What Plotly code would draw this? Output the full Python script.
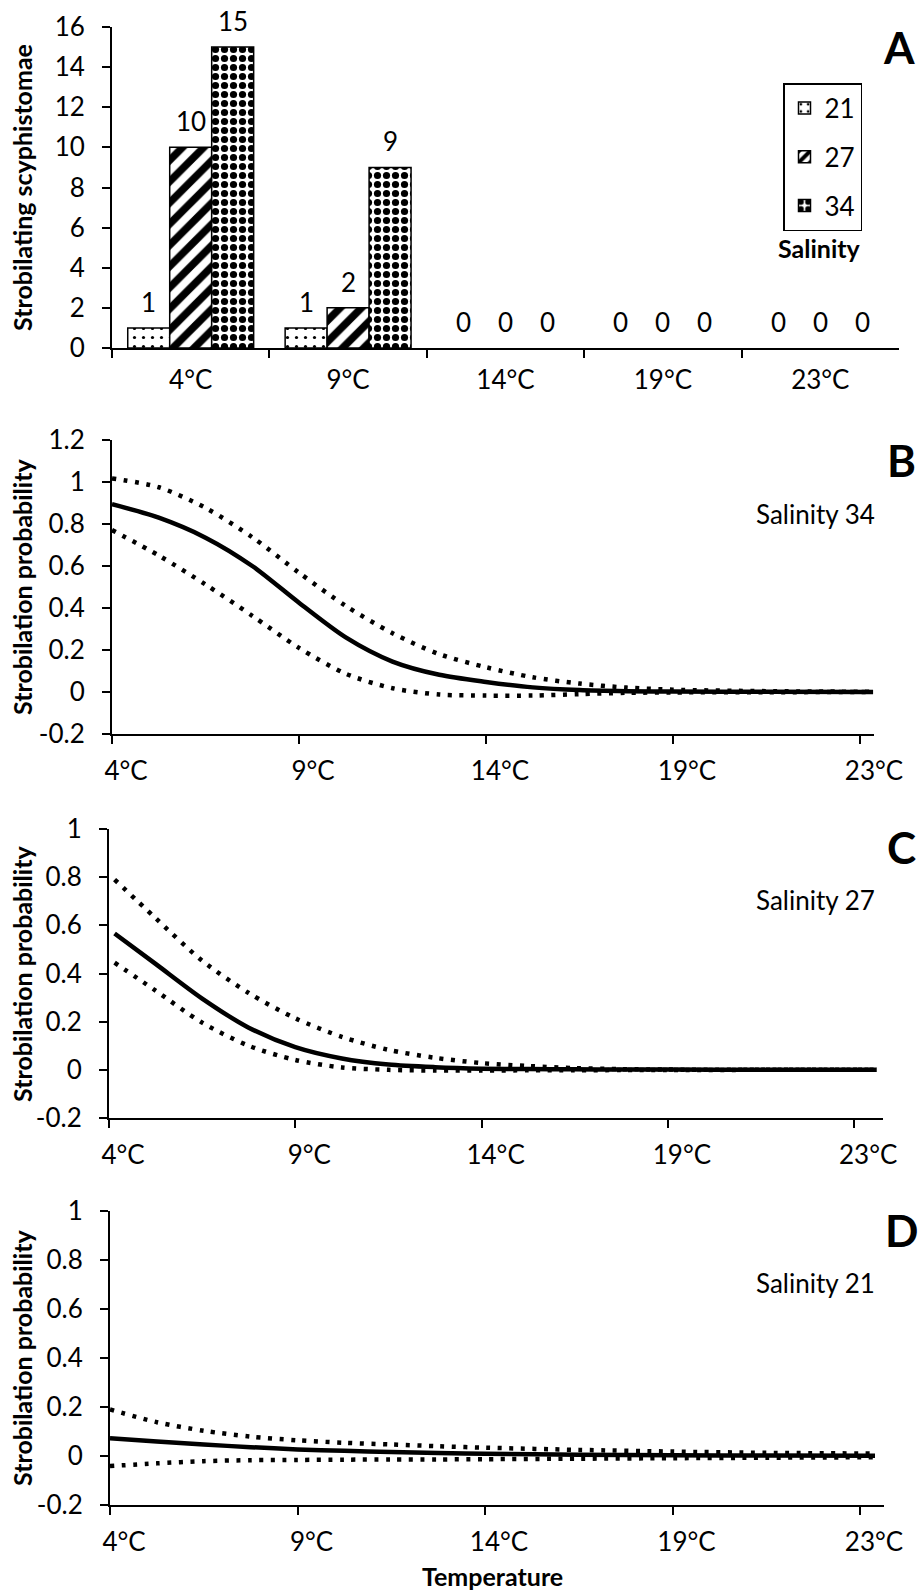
import plotly.graph_objects as go

# ---------------- data ----------------
temps = ["4°C", "9°C", "14°C", "19°C", "23°C"]
sal21 = [1, 1, 0, 0, 0]
sal27 = [10, 2, 0, 0, 0]
sal34 = [15, 9, 0, 0, 0]

# positions along the temperature axis (0 = 4°C, 1 = 9°C, ... 4 = 23°C)
b_x = [0, 0.25, 0.5, 0.75, 1.0, 1.25, 1.5, 1.75, 2.0, 2.25, 2.5, 2.75, 3.0, 3.5, 4.07]
b_fit = [0.895, 0.83, 0.735, 0.60, 0.425, 0.26, 0.145, 0.082, 0.048, 0.022, 0.009, 0.004, 0.002, 0.001, 0.0]
b_upper = [1.017, 0.975, 0.877, 0.737, 0.568, 0.41, 0.28, 0.18, 0.118, 0.07, 0.04, 0.021, 0.011, 0.004, 0.001]
b_lower = [0.771, 0.65, 0.512, 0.363, 0.21, 0.087, 0.018, -0.012, -0.017, -0.017, -0.01, -0.004, -0.002, -0.001, 0.0]

c_x = [0.03, 0.25, 0.5, 0.75, 1.0, 1.25, 1.5, 1.75, 2.0, 2.25, 2.5, 2.75, 3.0, 3.5, 4.12]
c_fit = [0.566, 0.44, 0.296, 0.175, 0.094, 0.047, 0.022, 0.011, 0.005, 0.003, 0.002, 0.001, 0.001, 0.0, 0.0]
c_upper = [0.79, 0.63, 0.453, 0.319, 0.214, 0.137, 0.083, 0.05, 0.028, 0.016, 0.007, 0.003, 0.001, 0.0, 0.0]
c_lower = [0.445, 0.329, 0.196, 0.10, 0.041, 0.01, 0.0, -0.003, -0.003, -0.002, -0.002, -0.001, -0.001, 0.0, 0.0]

d_x = [0, 0.25, 0.5, 0.75, 1.0, 1.25, 1.5, 1.75, 2.0, 2.5, 3.0, 3.5, 4.08]
d_fit = [0.072, 0.059, 0.047, 0.036, 0.027, 0.021, 0.016, 0.012, 0.009, 0.005, 0.003, 0.002, 0.001]
d_upper = [0.19, 0.138, 0.103, 0.079, 0.064, 0.054, 0.047, 0.04, 0.034, 0.025, 0.018, 0.013, 0.01]
d_lower = [-0.041, -0.03, -0.021, -0.017, -0.016, -0.015, -0.014, -0.014, -0.013, -0.011, -0.009, -0.007, -0.005]

bar_ticks = [0, 2, 4, 6, 8, 10, 12, 14, 16]
prob_ticks_b = [-0.2, 0, 0.2, 0.4, 0.6, 0.8, 1, 1.2]
prob_text_b = ["-0.2", "0", "0.2", "0.4", "0.6", "0.8", "1", "1.2"]
prob_ticks_cd = [-0.2, 0, 0.2, 0.4, 0.6, 0.8, 1]
prob_text_cd = ["-0.2", "0", "0.2", "0.4", "0.6", "0.8", "1"]

# ---------------- styling ----------------
W, H = 921, 1594
FONT = "Lato"
TS = 26
BLACK = "black"


def px_x(p):
    return p / W


def px_y(p):
    return 1 - p / H


fig = go.Figure()

# Panel A bars
patterns = [
    dict(shape=".", size=9, solidity=0.1, fgcolor=BLACK, bgcolor="white", fgopacity=1),
    dict(shape="/", size=15, solidity=0.5, fgcolor=BLACK, bgcolor="white", fgopacity=1),
    dict(shape=".", size=9, solidity=0.5, fgcolor=BLACK, bgcolor="white", fgopacity=1),
]
for name, vals, pat in zip(["21", "27", "34"], [sal21, sal27, sal34], patterns):
    fig.add_trace(go.Bar(
        x=temps, y=vals, name=name, legendgroup="g" + name,
        marker=dict(color="white", pattern=pat,
                    line=dict(color=BLACK, width=[1.5 if v > 0 else 0 for v in vals])),
        xaxis="x", yaxis="y",
    ))

# Panels B-D curves
dot_dash = "4px,7.5px"
panels = [
    ("x2", "y2", b_x, b_fit, b_upper, b_lower),
    ("x3", "y3", c_x, c_fit, c_upper, c_lower),
    ("x4", "y4", d_x, d_fit, d_upper, d_lower),
]
for xa, ya, xs, fit, up, lo in panels:
    for ys in (up, lo):
        fig.add_trace(go.Scatter(
            x=xs, y=ys, mode="lines", showlegend=False,
            line=dict(color=BLACK, width=4.5, dash=dot_dash, shape="spline", smoothing=0.8),
            xaxis=xa, yaxis=ya,
        ))
    fig.add_trace(go.Scatter(
        x=xs, y=fit, mode="lines", showlegend=False,
        line=dict(color=BLACK, width=4.5, shape="spline", smoothing=0.8),
        xaxis=xa, yaxis=ya,
    ))

axis_common = dict(
    showline=True, linecolor=BLACK, linewidth=2, ticks="outside", ticklen=8,
    tickwidth=2, tickcolor=BLACK, showgrid=False, zeroline=False, automargin=False,
    tickfont=dict(family=FONT, size=TS, color=BLACK),
)

layout = dict(
    width=W, height=H, autosize=False,
    margin=dict(l=0, r=0, t=0, b=0, pad=0, autoexpand=False),
    paper_bgcolor="white", plot_bgcolor="white",
    barmode="group", bargap=0.2, bargroupgap=0,
    font=dict(family=FONT, size=TS, color=BLACK),
    showlegend=True,
    legend=dict(
        x=px_x(783), y=px_y(83), xanchor="left", yanchor="top",
        bordercolor=BLACK, borderwidth=1.5, bgcolor="white",
        font=dict(family=FONT, size=TS, color=BLACK),
        tracegroupgap=12, traceorder="grouped",
    ),
)

# Panel A axes
layout["xaxis"] = dict(axis_common, domain=[px_x(112), px_x(899)], anchor="y",
                       type="category", tickson="boundaries", ticklabelstandoff=8)
layout["yaxis"] = dict(axis_common, domain=[px_y(348), px_y(27)], anchor="x",
                       range=[0, 16], tickvals=bar_ticks, ticklabelstandoff=12)

# Panels B-D axes
specs = [
    ("2", 112, 874, 187.0, 440, 734, [-0.2, 1.2], prob_ticks_b, prob_text_b),
    ("3", 109, 883, 186.3, 829, 1118, [-0.2, 1.0], prob_ticks_cd, prob_text_cd),
    ("4", 110, 884, 187.5, 1211, 1505, [-0.2, 1.0], prob_ticks_cd, prob_text_cd),
]
for k, x0, x1, step, y0, y1, yr, tv, tt in specs:
    layout["xaxis" + k] = dict(axis_common, domain=[px_x(x0), px_x(x1)], anchor="y" + k,
                               range=[0, (x1 - x0) / step], tickvals=[0, 1, 2, 3, 4],
                               ticktext=temps, ticklabelshift=14, ticklabelstandoff=5)
    layout["yaxis" + k] = dict(axis_common, domain=[px_y(y1), px_y(y0)], anchor="x" + k,
                               range=yr, tickvals=tv, ticktext=tt, ticklabelstandoff=12)

annotations = []
# bar value labels
group_w = 1 - 0.2
for j, vals in enumerate([sal21, sal27, sal34]):
    for i, v in enumerate(vals):
        annotations.append(dict(
            x=i + (j - 1) * group_w / 3, y=v, xref="x", yref="y", text=str(v),
            showarrow=False, yanchor="middle", yshift=26,
            font=dict(family=FONT, size=TS, color=BLACK)))

# panel letters
for letter, xx, yy in [("A", 899, 47), ("B", 901, 460), ("C", 901, 847), ("D", 901, 1230)]:
    annotations.append(dict(x=px_x(xx), y=px_y(yy), xref="paper", yref="paper", text="<b>%s</b>" % letter,
                            showarrow=False, xanchor="center", yanchor="middle",
                            font=dict(family=FONT, size=44, color=BLACK)))

# salinity labels
for txt, yy in [("Salinity 34", 514), ("Salinity 27", 900), ("Salinity 21", 1283)]:
    annotations.append(dict(x=px_x(877), y=px_y(yy), xref="paper", yref="paper", text=txt,
                            showarrow=False, xanchor="right", yanchor="middle",
                            font=dict(family=FONT, size=TS, color=BLACK)))

annotations.append(dict(x=px_x(819), y=px_y(248), xref="paper", yref="paper", text="<b>Salinity</b>",
                        showarrow=False, xanchor="center", yanchor="middle",
                        font=dict(family=FONT, size=25, color=BLACK)))

# axis titles
for txt, yy in [("Strobilating scyphistomae", 188), ("Strobilation probability", 587),
                ("Strobilation probability", 974), ("Strobilation probability", 1358)]:
    annotations.append(dict(x=px_x(22), y=px_y(yy), xref="paper", yref="paper", text="<b>%s</b>" % txt,
                            showarrow=False, textangle=-90, xanchor="center", yanchor="middle",
                            font=dict(family=FONT, size=25, color=BLACK)))

annotations.append(dict(x=px_x(492), y=px_y(1576), xref="paper", yref="paper", text="<b>Temperature</b>",
                        showarrow=False, xanchor="center", yanchor="middle",
                        font=dict(family=FONT, size=25, color=BLACK)))

layout["annotations"] = annotations
fig.update_layout(**layout)

fig.write_html("out.html")
